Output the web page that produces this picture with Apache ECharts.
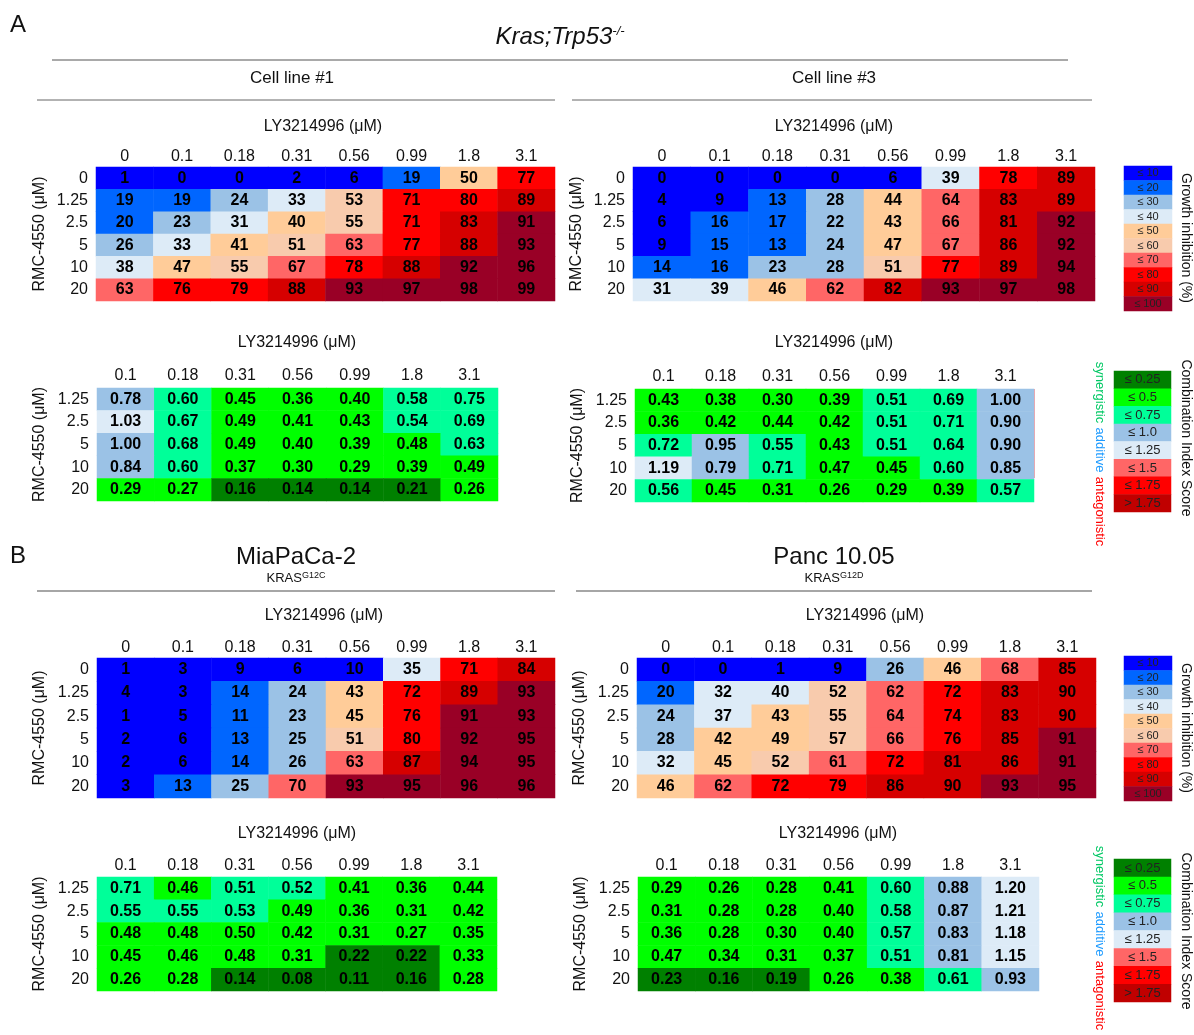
<!DOCTYPE html>
<html><head><meta charset="utf-8">
<script src="https://cdn.jsdelivr.net/npm/echarts@6/dist/echarts.min.js"></script>
<style>html,body{margin:0;padding:0;background:#fff}#c{width:1194px;height:1035px}</style>
</head><body><div id="c"></div>
<script>
// ---------- data ----------
const giColLabels = ['0','0.1','0.18','0.31','0.56','0.99','1.8','3.1'];
const giRowLabels = ['0','1.25','2.5','5','10','20'];
const ciColLabels = ['0.1','0.18','0.31','0.56','0.99','1.8','3.1'];
const ciRowLabels = ['1.25','2.5','5','10','20'];

// Growth inhibition (%)
const giCellLine1 = [
  [1,0,0,2,6,19,50,77],
  [19,19,24,33,53,71,80,89],
  [20,23,31,40.4,55,71,83,91],
  [26,33,41,51,63,77,88,93],
  [38,47,55,67,78,88,92,96],
  [63,76,79,88,93,97,98,99]
];
const giCellLine3 = [
  [0,0,0,0,6,39,78,89],
  [4,9,13,28,44,64,83,89],
  [6,16,17,22,43,66,81,92],
  [9,15,13,24,47,67,86,92],
  [14,16,23,28,51,77,89,94],
  [31,39,46,62,82,93,97,98]
];
const giMiaPaCa = [
  [1,3,9,6,10,35,71,84],
  [4,3,14,24,43,72,89,93],
  [1,5,11,23,45,76,91,93],
  [2,6,13,25,51,80,92,95],
  [2,6,14,26,63,87,94,95],
  [3,13,25,70,93,95,96,96]
];
const giPanc = [
  [0,0,1,9,26,46,68,85],
  [20,32,40,52,62,72,83,90],
  [24,37,43,55,64,74,83,90],
  [28,42,49,57,66,76,85,91],
  [32,45,52,61,72,81,86,91],
  [46,62,72,79,86,90,93,95]
];

// Combination index
const ciCellLine1 = [
  [0.78,0.60,0.45,0.36,0.40,0.58,0.75],
  [1.03,0.67,0.49,0.41,0.43,0.54,0.69],
  [1.00,0.68,0.49,0.40,0.39,0.48,0.63],
  [0.84,0.60,0.37,0.30,0.29,0.39,0.49],
  [0.29,0.27,0.16,0.14,0.14,0.21,0.26]
];
const ciCellLine3 = [
  [0.43,0.38,0.30,0.39,0.51,0.69,1.00],
  [0.36,0.42,0.44,0.42,0.51,0.71,0.90],
  [0.72,0.95,0.55,0.43,0.51,0.64,0.90],
  [1.19,0.79,0.71,0.47,0.45,0.60,0.85],
  [0.56,0.45,0.31,0.26,0.29,0.39,0.57]
];
const ciMiaPaCa = [
  [0.71,0.46,0.51,0.52,0.41,0.36,0.44],
  [0.55,0.55,0.53,0.49,0.36,0.31,0.42],
  [0.48,0.48,0.50,0.42,0.31,0.27,0.35],
  [0.45,0.46,0.48,0.31,0.22,0.22,0.33],
  [0.26,0.28,0.14,0.08,0.11,0.16,0.28]
];
const ciPanc = [
  [0.29,0.26,0.28,0.41,0.60,0.88,1.20],
  [0.31,0.28,0.28,0.40,0.58,0.87,1.21],
  [0.36,0.28,0.30,0.40,0.57,0.83,1.18],
  [0.47,0.34,0.31,0.37,0.51,0.81,1.15],
  [0.23,0.16,0.19,0.26,0.38,0.61,0.93]
];

// Legend bins
const giBreaks = [10,20,30,40,50,60,70,80,90,100];
const giLegendLabels = ['≤ 10','≤ 20','≤ 30','≤ 40','≤ 50','≤ 60','≤ 70','≤ 80','≤ 90','≤ 100'];
const giLegendValues = [5,15,25,35,45,55,65,75,85,95];
const ciBreaks = [0.25,0.5,0.75,1.0,1.25,1.5,1.75];
const ciLegendLabels = ['≤ 0.25','≤ 0.5','≤ 0.75','≤ 1.0','≤ 1.25','≤ 1.5','≤ 1.75','> 1.75'];
const ciLegendValues = [0.2,0.4,0.6,0.9,1.1,1.4,1.6,2.0];

// ---------- styles / layout ----------
const giColors = ['#0000FF','#0066FF','#9BC2E6','#DDEBF7','#FFCC99','#F8CBAD','#FF6666','#FF0000','#D60000','#990026'];
const ciColors = ['#008000','#00FF00','#00FF99','#9BC2E6','#DDEBF7','#FF6666','#FF0000','#C00000'];
const FONT = '"Liberation Sans", Arial, sans-serif';
const TXT = '#111';

const panels = [
  {kind:'gi', values:giCellLine1, box:{left:96, top:167, width:459, height:134}, xMargin:2, nameGap:48},
  {kind:'gi', values:giCellLine3, box:{left:633, top:167, width:462, height:134}, xMargin:2, nameGap:48},
  {kind:'ci', values:ciCellLine1, box:{left:97, top:388, width:401, height:113}, xMargin:4, nameGap:49},
  {kind:'ci', values:ciCellLine3, box:{left:635, top:389, width:399, height:113}, xMargin:4, nameGap:49},
  {kind:'gi', values:giMiaPaCa, box:{left:97, top:658, width:458, height:140}, xMargin:2, nameGap:49},
  {kind:'gi', values:giPanc, box:{left:637, top:658, width:459, height:140}, xMargin:2, nameGap:49},
  {kind:'ci', values:ciMiaPaCa, box:{left:97, top:877, width:400, height:114}, xMargin:3, nameGap:49},
  {kind:'ci', values:ciPanc, box:{left:638, top:877, width:401, height:114}, xMargin:3, nameGap:49}
];
const legends = [
  {kind:'gi', box:{left:1124, top:166, width:48, height:145}},
  {kind:'ci', box:{left:1114, top:371, width:57, height:141}},
  {kind:'gi', box:{left:1124, top:656, width:48, height:145}},
  {kind:'ci', box:{left:1114, top:859, width:57, height:143}}
];

const grids = [], xAxes = [], yAxes = [], series = [];
const giSeries = [], ciSeries = [];

panels.forEach((p, i) => {
  const cols = p.kind === 'gi' ? giColLabels : ciColLabels;
  const rows = p.kind === 'gi' ? giRowLabels : ciRowLabels;
  grids.push(Object.assign({}, p.box));
  xAxes.push({
    type:'category', gridIndex:i, position:'top', data:cols,
    axisLine:{show:false}, axisTick:{show:false}, splitLine:{show:false}, splitArea:{show:false},
    axisLabel:{interval:0, margin:p.xMargin, fontSize:16, fontFamily:FONT, color:TXT}
  });
  yAxes.push({
    type:'category', gridIndex:i, data:rows, inverse:true,
    axisLine:{show:false}, axisTick:{show:false}, splitLine:{show:false}, splitArea:{show:false},
    axisLabel:{interval:0, margin:8, fontSize:16, fontFamily:FONT, color:TXT},
    name:'RMC-4550 (μM)', nameLocation:'middle', nameRotate:90, nameGap:p.nameGap,
    nameTextStyle:{fontSize:16, fontFamily:FONT, color:TXT}
  });
  const data = [];
  p.values.forEach((row, r) => row.forEach((v, c) => data.push([c, r, v])));
  (p.kind === 'gi' ? giSeries : ciSeries).push(series.length);
  series.push({
    type:'heatmap', xAxisIndex:i, yAxisIndex:i, data,
    label:{show:true, fontSize:16, fontWeight:'bold', fontFamily:FONT, color:'#000',
      formatter: p.kind === 'gi' ? (d => String(Math.round(d.value[2]))) : (d => d.value[2].toFixed(2))},
    itemStyle:{borderWidth:0}, emphasis:{disabled:true}, silent:true
  });
});

legends.forEach((lg) => {
  const i = grids.length;
  const labels = lg.kind === 'gi' ? giLegendLabels : ciLegendLabels;
  const vals = lg.kind === 'gi' ? giLegendValues : ciLegendValues;
  grids.push(Object.assign({}, lg.box));
  xAxes.push({type:'category', gridIndex:i, data:['k'], show:false});
  yAxes.push({type:'category', gridIndex:i, data:labels, inverse:true, show:false});
  (lg.kind === 'gi' ? giSeries : ciSeries).push(series.length);
  series.push({
    type:'heatmap', xAxisIndex:i, yAxisIndex:i,
    data: vals.map((v, r) => [0, r, v]),
    label:{show:true, fontSize: lg.kind === 'gi' ? 11 : 13, fontFamily:FONT, color:'#222',
      formatter: d => labels[d.value[1]]},
    itemStyle:{borderWidth:0}, emphasis:{disabled:true}, silent:true
  });
});

const giPieces = giBreaks.map((b, k) => k === 0 ? {lte:b, color:giColors[k]} : {gt:giBreaks[k-1], lte:b, color:giColors[k]});
const ciPieces = ciBreaks.map((b, k) => k === 0 ? {lte:b, color:ciColors[k]} : {gt:ciBreaks[k-1], lte:b, color:ciColors[k]});
ciPieces.push({gt:ciBreaks[ciBreaks.length-1], color:ciColors[ciColors.length-1]});

// ---------- annotations ----------
const txt = (x, y, text, style, rotation) => ({
  type:'text', x, y, rotation: rotation || 0, silent:true,
  style: Object.assign({text, fontSize:16, fontFamily:FONT, fill:TXT, align:'center', verticalAlign:'middle'}, style || {})
});
const hline = (x1, x2, y, stroke, w) => ({type:'line', silent:true, shape:{x1, y1:y, x2, y2:y}, style:{stroke, lineWidth:w}});
const sideLabel = {
  text:'{g|synergistic} {b|additive} {r|antagonistic}',
  rich:{
    g:{fill:'#00C864', color:'#00C864', fontSize:13, fontFamily:FONT},
    b:{fill:'#1E9BFF', color:'#1E9BFF', fontSize:13, fontFamily:FONT},
    r:{fill:'#FF0000', color:'#FF0000', fontSize:13, fontFamily:FONT}
  }
};
const supRich = (big, small) => ({
  a:{fontSize:big, fontFamily:FONT, fill:TXT, color:TXT, verticalAlign:'bottom'},
  s:{fontSize:small, fontFamily:FONT, fill:TXT, color:TXT, verticalAlign:'top'}
});
const ly = 'LY3214996 (μM)';

const graphic = [
  txt(18, 25, 'A', {fontSize:24}),
  txt(560, 37, '{a|Kras;Trp53}{s|-/-}', {rich:{
    a:{fontSize:24, fontStyle:'italic', fontFamily:FONT, fill:TXT, color:TXT, verticalAlign:'bottom'},
    s:{fontSize:13, fontStyle:'italic', fontFamily:FONT, fill:TXT, color:TXT, verticalAlign:'top'}}}),
  hline(52, 1068, 60, '#555', 1),
  txt(292, 78, 'Cell line #1', {fontSize:17}),
  txt(834, 78, 'Cell line #3', {fontSize:17}),
  hline(37, 555, 100, '#666', 1),
  hline(572, 1092, 100, '#666', 1),
  txt(323, 127, ly), txt(834, 127, ly),
  txt(297, 343, ly), txt(834, 343, ly),
  txt(18, 556, 'B', {fontSize:24}),
  txt(296, 557, 'MiaPaCa-2', {fontSize:24}),
  txt(834, 557, 'Panc 10.05', {fontSize:24}),
  txt(296, 578, '{a|KRAS}{s|G12C}', {rich:supRich(13, 9)}),
  txt(834, 578, '{a|KRAS}{s|G12D}', {rich:supRich(13, 9)}),
  hline(37, 555, 591, '#888', 1.5),
  hline(576, 1092, 591, '#888', 1.5),
  txt(324, 616, ly), txt(865, 616, ly),
  txt(297, 834, ly), txt(838, 834, ly),
  {type:'line', silent:true, shape:{x1:1034, y1:389, x2:1034, y2:478}, style:{stroke:'#FF4444', lineWidth:1}},
  txt(1186, 238, 'Growth inhibition (%)', {fontSize:14}, -Math.PI/2),
  txt(1186, 728, 'Growth inhibition (%)', {fontSize:14}, -Math.PI/2),
  txt(1186, 438, 'Combination Index Score', {fontSize:14}, -Math.PI/2),
  txt(1186, 931, 'Combination Index Score', {fontSize:14}, -Math.PI/2),
  txt(1100, 454, '', sideLabel, -Math.PI/2),
  txt(1100, 938, '', sideLabel, -Math.PI/2)
];

const chart = echarts.init(document.getElementById('c'), null, {renderer:'canvas', width:1194, height:1035});
chart.setOption({
  animation:false,
  backgroundColor:'#fff',
  grid:grids, xAxis:xAxes, yAxis:yAxes, series,
  visualMap:[
    {type:'piecewise', show:false, dimension:2, seriesIndex:giSeries, pieces:giPieces},
    {type:'piecewise', show:false, dimension:2, seriesIndex:ciSeries, pieces:ciPieces}
  ],
  graphic
});
</script></body></html>
